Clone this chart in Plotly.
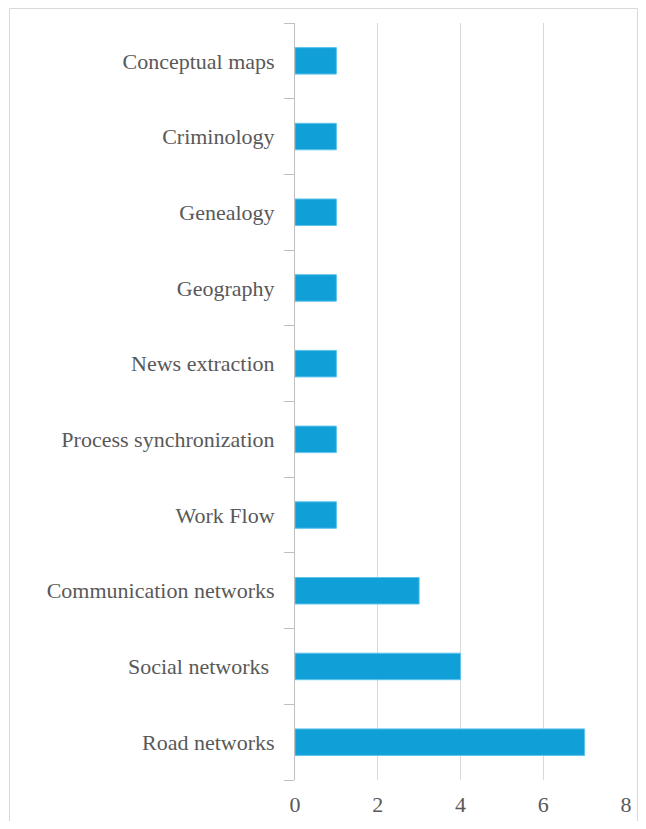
import plotly.graph_objects as go

categories = ["Road networks", "Social networks ", "Communication networks", "Work Flow",
              "Process synchronization", "News extraction", "Geography", "Genealogy",
              "Criminology", "Conceptual maps"]
values = [7, 4, 3, 1, 1, 1, 1, 1, 1, 1]
x_ticks = [0, 2, 4, 6, 8]

fig = go.Figure(go.Bar(
    x=values, y=categories, orientation="h",
    marker=dict(color="#119fd8", line=dict(color="#5ec3ec", width=1)),
    width=0.35,
))

font = dict(family="Liberation Serif", size=22, color="#595959")

# page body has an 8px margin; figure is sized/offset to compensate (no scrollbars)
W, H = 630, 813
L, R, T, B = 287, 12, 15, 41
pw, ph = W - L - R, H - T - B

fig.update_layout(
    width=W, height=H,
    margin=dict(l=L, r=R, t=T, b=B, autoexpand=False),
    paper_bgcolor="white", plot_bgcolor="white",
    showlegend=False,
    font=font,
    xaxis=dict(range=[0, 8], tickvals=x_ticks, showgrid=True, gridcolor="#d9d9d9",
               gridwidth=1, zeroline=False, showline=False, ticks="",
               ticklabelstandoff=9, tickfont=font),
    yaxis=dict(categoryorder="array", categoryarray=categories, showline=True,
               linecolor="#bfbfbf", linewidth=1, ticks="outside", tickson="boundaries",
               ticklen=10, tickcolor="#bfbfbf", showgrid=False, zeroline=False,
               ticklabelstandoff=15, tickfont=font),
    shapes=[dict(type="rect", xref="paper", yref="paper",
                 x0=-(L - 1.5) / pw, x1=1 + (R - 0.5) / pw,
                 y0=-(B + 20) / ph, y1=1 + (T - 0.5) / ph,
                 line=dict(color="#d9d9d9", width=1), fillcolor="rgba(0,0,0,0)", layer="below")],
)

fig.write_html("out.html")
